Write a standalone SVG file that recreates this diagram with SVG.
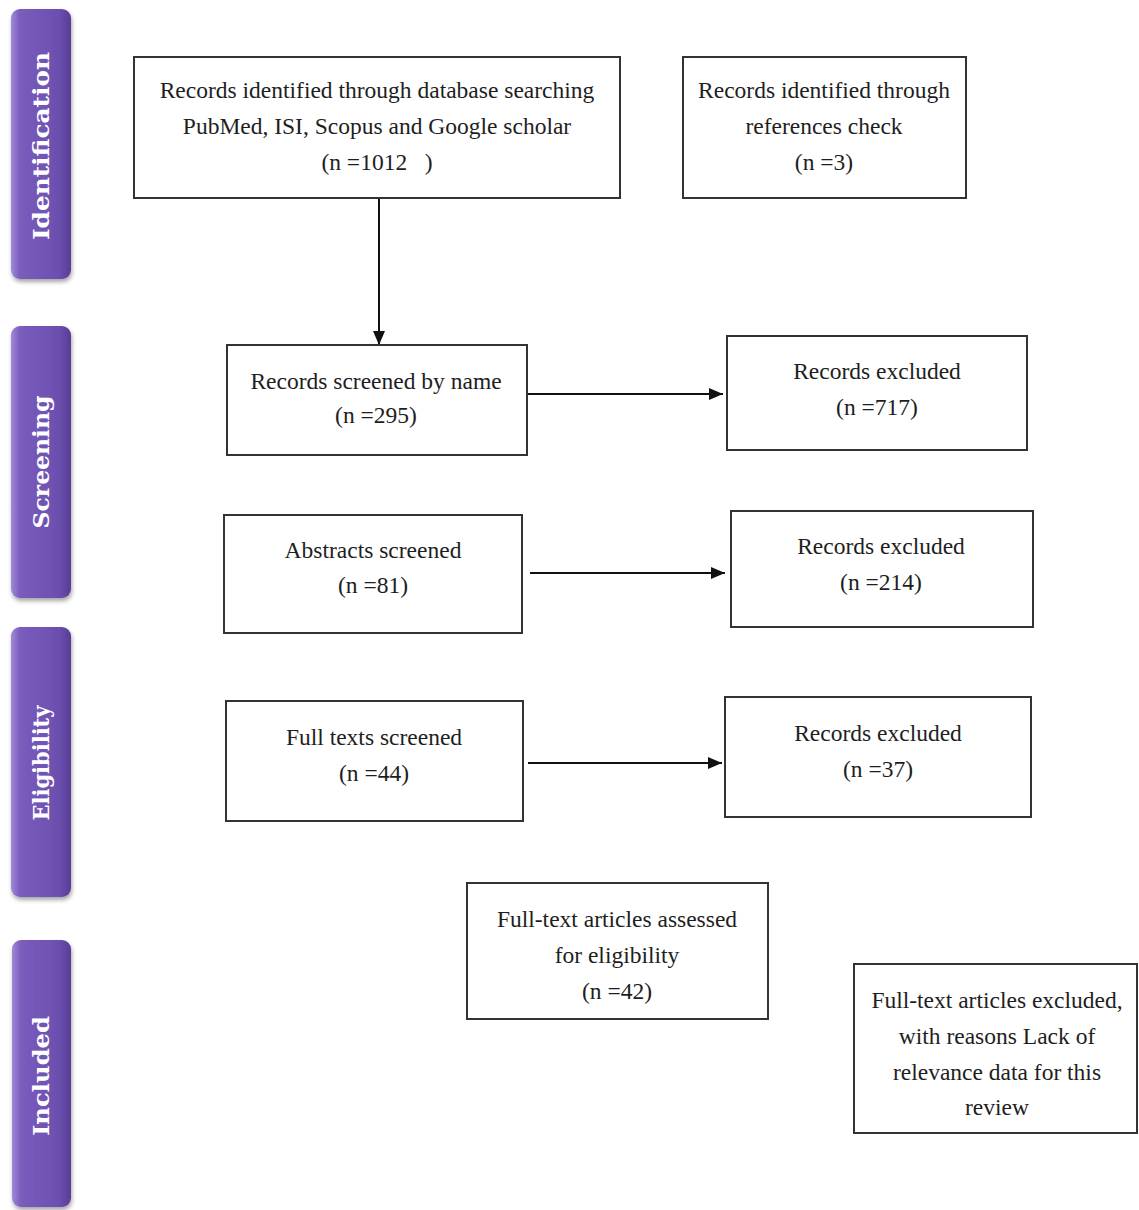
<svg xmlns="http://www.w3.org/2000/svg" width="1139" height="1210" viewBox="0 0 1139 1210">
<defs>
<linearGradient id="bar" x1="0" y1="0" x2="1" y2="0">
<stop offset="0" stop-color="#a08ad8"/>
<stop offset="0.15" stop-color="#7a5cbd"/>
<stop offset="0.8" stop-color="#6b4fae"/>
<stop offset="1" stop-color="#573d96"/>
</linearGradient>
<filter id="sh" x="-30%" y="-10%" width="160%" height="120%">
<feDropShadow dx="1" dy="3" stdDeviation="2" flood-color="#000" flood-opacity="0.35"/>
</filter>
<marker id="ah" viewBox="0 0 14 12" refX="14" refY="6" markerWidth="14" markerHeight="12" markerUnits="userSpaceOnUse" orient="auto">
<path d="M0,0 L14,6 L0,12 Z" fill="#111"/>
</marker>
</defs>
<style>
.box{fill:#fff;stroke:#333;stroke-width:2}
.t{font-family:"Liberation Serif","Times New Roman",serif;font-size:23.5px;fill:#1e1e1e;text-anchor:middle}
.lab{font-family:"DejaVu Serif",serif;font-weight:bold;font-size:22px;fill:#fff;text-anchor:middle}
.bar{fill:url(#bar);filter:url(#sh)}
.conn{stroke:#111;stroke-width:2;fill:none;marker-end:url(#ah)}
</style>
<rect width="1139" height="1210" fill="#fff"/>

<g id="stage-identification">
<rect class="bar" x="11" y="9" width="60" height="270" rx="9"/>
<text class="lab" transform="translate(49,146) rotate(-90)" textLength="188" lengthAdjust="spacingAndGlyphs">Identification</text>
</g>
<g id="stage-screening">
<rect class="bar" x="11" y="326" width="60" height="272" rx="9"/>
<text class="lab" transform="translate(49,462) rotate(-90)" textLength="133" lengthAdjust="spacingAndGlyphs">Screening</text>
</g>
<g id="stage-eligibility">
<rect class="bar" x="11" y="627" width="60" height="270" rx="9"/>
<text class="lab" transform="translate(49,763) rotate(-90)" textLength="115" lengthAdjust="spacingAndGlyphs">Eligibility</text>
</g>
<g id="stage-included">
<rect class="bar" x="12" y="940" width="59" height="267" rx="9"/>
<text class="lab" transform="translate(49,1076) rotate(-90)" textLength="120" lengthAdjust="spacingAndGlyphs">Included</text>
</g>

<g id="connectors">
<line class="conn" x1="379" y1="198" x2="379" y2="345"/>
<line class="conn" x1="527" y1="394" x2="723" y2="394"/>
<line class="conn" x1="530" y1="573" x2="725" y2="573"/>
<line class="conn" x1="528" y1="763" x2="722" y2="763"/>
</g>

<g id="n-database">
<rect class="box" x="134" y="57" width="486" height="141"/>
<text class="t" x="377" y="98">Records identified through database searching</text>
<text class="t" x="377" y="134">PubMed, ISI, Scopus and Google scholar</text>
<text class="t" x="377" y="170" xml:space="preserve">(n =1012   )</text>
</g>
<g id="n-references">
<rect class="box" x="683" y="57" width="283" height="141"/>
<text class="t" x="824" y="98">Records identified through</text>
<text class="t" x="824" y="134">references check</text>
<text class="t" x="824" y="170">(n =3)</text>
</g>
<g id="n-screened-name">
<rect class="box" x="227" y="345" width="300" height="110"/>
<text class="t" x="376" y="389">Records screened by name</text>
<text class="t" x="376" y="423">(n =295)</text>
</g>
<g id="n-excluded-717">
<rect class="box" x="727" y="336" width="300" height="114"/>
<text class="t" x="877" y="379">Records excluded</text>
<text class="t" x="877" y="415">(n =717)</text>
</g>
<g id="n-abstracts">
<rect class="box" x="224" y="515" width="298" height="118"/>
<text class="t" x="373" y="558">Abstracts screened</text>
<text class="t" x="373" y="593">(n =81)</text>
</g>
<g id="n-excluded-214">
<rect class="box" x="731" y="511" width="302" height="116"/>
<text class="t" x="881" y="554">Records excluded</text>
<text class="t" x="881" y="590">(n =214)</text>
</g>
<g id="n-fulltexts">
<rect class="box" x="226" y="701" width="297" height="120"/>
<text class="t" x="374" y="745">Full texts screened</text>
<text class="t" x="374" y="781">(n =44)</text>
</g>
<g id="n-excluded-37">
<rect class="box" x="725" y="697" width="306" height="120"/>
<text class="t" x="878" y="741">Records excluded</text>
<text class="t" x="878" y="777">(n =37)</text>
</g>
<g id="n-assessed">
<rect class="box" x="467" y="883" width="301" height="136"/>
<text class="t" x="617" y="927">Full-text articles assessed</text>
<text class="t" x="617" y="963">for eligibility</text>
<text class="t" x="617" y="999">(n =42)</text>
</g>
<g id="n-excluded-reasons">
<rect class="box" x="854" y="964" width="283" height="169"/>
<text class="t" x="997" y="1008">Full-text articles excluded,</text>
<text class="t" x="997" y="1044">with reasons Lack of</text>
<text class="t" x="997" y="1080">relevance data for this</text>
<text class="t" x="997" y="1115">review</text>
</g>
</svg>
